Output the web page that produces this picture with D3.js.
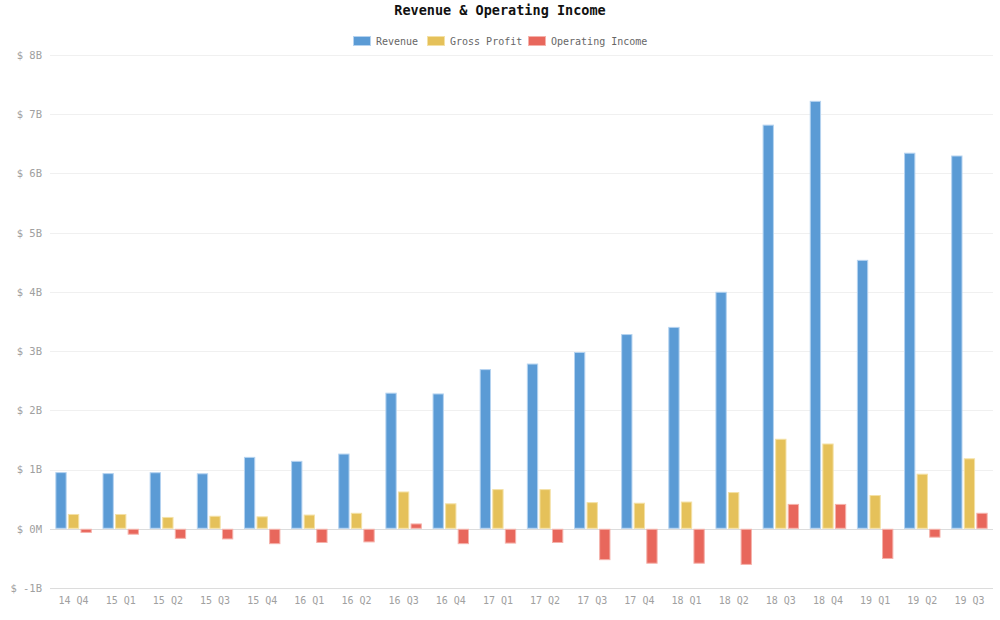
<!DOCTYPE html>
<html>
<head>
<meta charset="utf-8">
<script src="https://cdn.jsdelivr.net/npm/d3@7"></script>
<style>
  html, body { margin: 0; padding: 0; background: #fff; }
  svg { display: block; }
</style>
</head>
<body>
<svg id="chart" width="1000" height="620"></svg>
<script>
const categories = ["14 Q4","15 Q1","15 Q2","15 Q3","15 Q4","16 Q1","16 Q2","16 Q3","16 Q4","17 Q1","17 Q2","17 Q3","17 Q4","18 Q1","18 Q2","18 Q3","18 Q4","19 Q1","19 Q2","19 Q3"];
const seriesNames = ["Revenue","Gross Profit","Operating Income"];
const revenue = [0.957,0.940,0.955,0.937,1.214,1.147,1.270,2.298,2.285,2.696,2.790,2.985,3.288,3.409,4.002,6.824,7.226,4.541,6.350,6.303];
const grossProfit = [0.25,0.25,0.20,0.22,0.21,0.24,0.27,0.63,0.43,0.67,0.67,0.45,0.44,0.46,0.62,1.52,1.44,0.57,0.93,1.19];
const operatingIncome = [-0.07,-0.10,-0.17,-0.18,-0.26,-0.24,-0.23,0.09,-0.26,-0.25,-0.24,-0.53,-0.59,-0.59,-0.61,0.42,0.42,-0.51,-0.15,0.27];
const yTicks = [-1,0,1,2,3,4,5,6,7,8];
const yTickLabels = ["$ -1B","$ 0M","$ 1B","$ 2B","$ 3B","$ 4B","$ 5B","$ 6B","$ 7B","$ 8B"];
const fills = ["#5b9bd5","#e5c15a","#e8675c"];
const strokes = ["#b5d3f0","#f4e1a6","#f5b2ab"];

(function () {
const seriesValues = [revenue, grossProfit, operatingIncome];
const mono = "'DejaVu Sans Mono', 'Liberation Mono', monospace";
const svg = d3.select("#chart");

const plotLeft = 50, plotRight = 993, plotTop = 55, plotBottom = 588;
const y = d3.scaleLinear().domain([-1, 8]).range([plotBottom, plotTop]);
const x0 = d3.scaleBand().domain(categories).range([plotLeft, plotRight]).paddingInner(0.2).paddingOuter(0.1);
const x1 = d3.scaleBand().domain(d3.range(seriesNames.length)).range([0, x0.bandwidth()]).paddingInner(0.1).paddingOuter(0.05);

// grid lines
svg.append("g").selectAll("line").data(yTicks).join("line")
  .attr("x1", plotLeft).attr("x2", plotRight)
  .attr("y1", d => Math.round(y(d)) + 0.5).attr("y2", d => Math.round(y(d)) + 0.5)
  .attr("stroke", d => (d === 0 || d === -1) ? "#dcdcdc" : "#f0f0f0")
  .attr("stroke-width", 1);

// y labels
const yAxis = d3.axisLeft(y).tickValues(yTicks).tickSize(0).tickPadding(0)
  .tickFormat((d, i) => yTickLabels[i]);
const yg = svg.append("g").attr("transform", `translate(${plotLeft - 8},0)`).call(yAxis);
yg.select(".domain").remove();
yg.selectAll("text").attr("font-family", mono).attr("font-size", 10.5).attr("fill", "#a0a0a0");

// x labels
const xAxis = d3.axisBottom(x0).tickSize(0).tickPadding(0);
const xg = svg.append("g").attr("transform", `translate(0,${plotBottom + 9})`).call(xAxis);
xg.select(".domain").remove();
xg.selectAll("text").attr("font-family", mono).attr("font-size", 10).attr("fill", "#a0a0a0");

// bars
const groups = svg.append("g").selectAll("g").data(categories).join("g")
  .attr("transform", d => `translate(${x0(d)},0)`);
groups.selectAll("rect")
  .data((d, ci) => seriesValues.map((vals, si) => ({ si, v: vals[ci] })))
  .join("rect")
  .attr("x", d => x1(d.si) + 0.5)
  .attr("width", x1.bandwidth() - 1)
  .attr("y", d => Math.min(y(d.v), y(0)) + 0.5)
  .attr("height", d => Math.max(0, Math.abs(y(d.v) - y(0)) - 1))
  .attr("fill", d => fills[d.si])
  .attr("stroke", d => strokes[d.si])
  .attr("stroke-width", 1);

// title
svg.append("text").attr("x", 500).attr("y", 15).attr("text-anchor", "middle")
  .attr("font-family", mono).attr("font-weight", "bold").attr("font-size", 13.5)
  .attr("fill", "#111").text("Revenue & Operating Income");

// legend
const legendX = [353, 427, 528];
const lg = svg.append("g").selectAll("g").data(seriesNames).join("g")
  .attr("transform", (d, i) => `translate(${legendX[i]},36)`);
lg.append("rect").attr("x", 0.5).attr("y", 0.5).attr("width", 17).attr("height", 9)
  .attr("fill", (d, i) => fills[i]).attr("stroke", (d, i) => strokes[i]);
lg.append("text").attr("x", 23).attr("y", 8.5)
  .attr("font-family", mono).attr("font-size", 10).attr("fill", "#666")
  .text(d => d);
})();
</script>
</body>
</html>
